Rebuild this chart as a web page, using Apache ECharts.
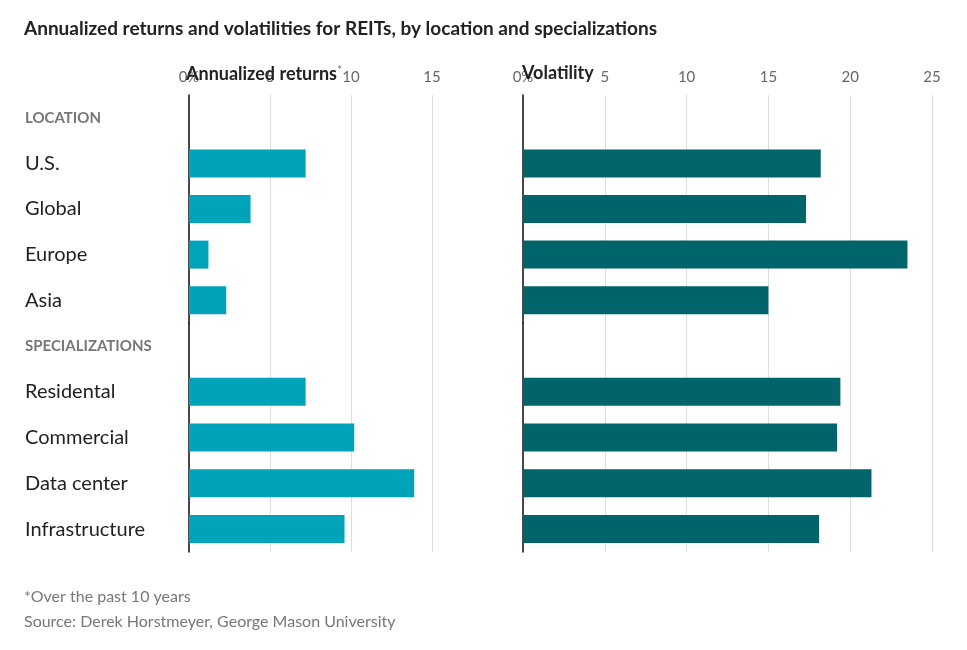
<!DOCTYPE html>
<html>
<head>
<meta charset="utf-8">
<script src="https://cdn.jsdelivr.net/npm/echarts@6/dist/echarts.min.js"></script>
<style>html,body{margin:0;background:#fff}#main{width:967px;height:650px}</style>
</head>
<body>
<div id="main"></div>
<script>
// data
var locCats = ['LOCATION', 'U.S.', 'Global', 'Europe', 'Asia'];
var specCats = ['SPECIALIZATIONS', 'Residental', 'Commercial', 'Data center', 'Infrastructure'];
var locReturns = [null, 7.2, 3.8, 1.2, 2.3];
var specReturns = [null, 7.2, 10.2, 13.9, 9.6];
var locVol = [null, 18.2, 17.3, 23.5, 15.0];
var specVol = [null, 19.4, 19.2, 21.3, 18.1];
var headers = ['LOCATION', 'SPECIALIZATIONS'];

var myChart = echarts.init(document.getElementById('main'));
var font = 'Lato, "Noto Sans", sans-serif';

function xAx(idx, max, showLabels) {
	return {
		gridIndex: idx, type: 'value', position: 'top', min: 0, max: max, interval: 5,
		axisLine: {show: false}, axisTick: {show: false},
		axisLabel: {show: showLabels, color: '#666', fontSize: 15, fontFamily: font, margin: 10,
			formatter: function (v) { return v === 0 ? '0%' : v; }},
		splitLine: {lineStyle: {color: '#ddd', width: 1}}
	};
}
function yAx(idx, cats, showLabels) {
	return {
		gridIndex: idx, type: 'category', data: cats, inverse: true,
		axisLine: {lineStyle: {color: '#111', width: 1.5}}, axisTick: {show: false},
		axisLabel: {show: showLabels, align: 'left', margin: 164, fontFamily: font,
			formatter: function (v) { return headers.indexOf(v) >= 0 ? '{h|' + v + '}' : '{n|' + v + '}'; },
			rich: {h: {fontSize: 15, fontWeight: 'bold', color: '#777', fontFamily: font},
				n: {fontSize: 20, color: '#222', fontFamily: font}}}
	};
}
function bars(idx, data, color) {
	return {type: 'bar', xAxisIndex: idx, yAxisIndex: idx, data: data, barWidth: 28,
		itemStyle: {color: color}, silent: true};
}

var option = {
	animation: false,
	title: [
		{text: 'Annualized returns and volatilities for REITs, by location and specializations', left: 19, top: 14,
			textStyle: {fontSize: 19, fontWeight: 'bold', color: '#222', fontFamily: font}},
		{text: 'Annualized returns{s|*}', left: 181, top: 59,
			textStyle: {fontSize: 18, fontWeight: 'bold', color: '#222', fontFamily: font,
				rich: {s: {fontSize: 12, color: '#888', verticalAlign: 'top', padding: [0, 0, 8, 0]}}}},
		{text: 'Volatility', left: 517, top: 59,
			textStyle: {fontSize: 18, fontWeight: 'bold', color: '#222', fontFamily: font}},
		{text: '*Over the past 10 years', left: 19, top: 584,
			textStyle: {fontSize: 16, fontWeight: 'normal', color: '#777', fontFamily: font}},
		{text: 'Source: Derek Horstmeyer, George Mason University', left: 19, top: 609,
			textStyle: {fontSize: 16, fontWeight: 'normal', color: '#777', fontFamily: font}}
	],
	grid: [
		{left: 189, width: 243, top: 95, height: 228},
		{left: 189, width: 243, top: 323, height: 229},
		{left: 523, width: 409, top: 95, height: 228},
		{left: 523, width: 409, top: 323, height: 229}
	],
	xAxis: [xAx(0, 15, true), xAx(1, 15, false), xAx(2, 25, true), xAx(3, 25, false)],
	yAxis: [yAx(0, locCats, true), yAx(1, specCats, true), yAx(2, locCats, false), yAx(3, specCats, false)],
	series: [
		bars(0, locReturns, '#00a3ba'),
		bars(1, specReturns, '#00a3ba'),
		bars(2, locVol, '#01646a'),
		bars(3, specVol, '#01646a')
	]
};

myChart.setOption(option);
</script>
</body>
</html>
